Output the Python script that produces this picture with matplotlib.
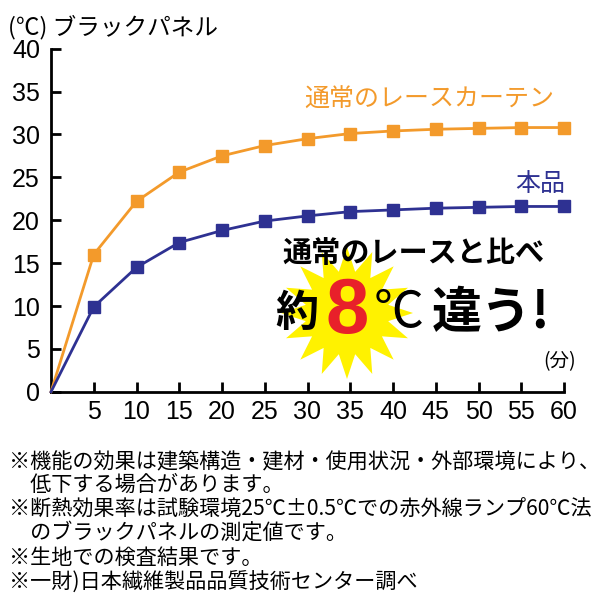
import numpy as np
import matplotlib
matplotlib.use('Agg')
import matplotlib.pyplot as plt
from matplotlib.patches import Polygon

plt.rcParams['font.family'] = ['Noto Sans CJK JP', 'DejaVu Sans']

# データ (分, ℃)
minutes = [0, 5, 10, 15, 20, 25, 30, 35, 40, 45, 50, 55, 60]
lace = [0, 16.0, 22.2, 25.6, 27.5, 28.7, 29.5, 30.1, 30.4, 30.6, 30.7, 30.8, 30.8]
product = [0, 9.9, 14.5, 17.4, 18.8, 19.9, 20.5, 21.0, 21.2, 21.4, 21.5, 21.6, 21.6]
xticks = list(range(5, 65, 5))
yticks = list(range(0, 45, 5))

orange = '#F39A2B'
navy = '#2E3192'

notes = [
    '※機能の効果は建築構造・建材・使用状況・外部環境により、',
    '　低下する場合があります。',
    '※断熱効果率は試験環境25℃±0.5℃での赤外線ランプ60℃法',
    '　のブラックパネルの測定値です。',
    '※生地での検査結果です。',
    '※一財)日本繊維製品品質技術センター調べ',
]

fig = plt.figure(figsize=(6, 6), dpi=100)
ax = fig.add_axes([0.085, 0.347, 0.855, 0.572])

# 原点にはマーカーなし
mk = list(range(1, len(minutes)))
ax.plot(minutes, lace, color=orange, lw=2, marker='s', ms=8.5, markevery=mk, clip_on=False, zorder=3)
ax.plot(minutes, product, color=navy, lw=2, marker='s', ms=8.5, markevery=mk, clip_on=False, zorder=3)

ax.set_xlim(0, 60)
ax.set_ylim(0, 40)
ax.set_xticks(xticks)
ax.set_yticks(yticks)
for s in ['top', 'right']:
    ax.spines[s].set_visible(False)
for s in ['left', 'bottom']:
    ax.spines[s].set_linewidth(2)
ax.tick_params(direction='in', length=7, width=2, labelsize=18, pad=6)
ax.tick_params(axis='y', pad=8)
for lab in ax.get_xticklabels() + ax.get_yticklabels():
    lab.set_family('Liberation Sans')

# series labels
fig.text(0.715, 0.833, '通常のレースカーテン', color=orange, fontsize=18, ha='center', va='center')
fig.text(0.900, 0.693, '本品', color=navy, fontsize=18, ha='center', va='center')
fig.text(0.013, 0.955, '(℃) ブラックパネル', fontsize=17, ha='left', va='center')
fig.text(0.932, 0.397, '(分)', fontsize=14, ha='center', va='center')

# starburst
n = 16
ang = np.linspace(0, 2 * np.pi, 2 * n, endpoint=False) + np.pi / 2
rad = np.where(np.arange(2 * n) % 2 == 0, 66, 42)
cx, cy = 347, 600 - 313
pts = np.column_stack([(cx + rad * np.cos(ang)) / 600, (cy + rad * np.sin(ang)) / 600])
fig.patches.append(Polygon(pts, closed=True, transform=fig.transFigure,
                           facecolor='#FFF200', edgecolor='none', zorder=1))

fig.text(0.69, 0.578, '通常のレースと比べ', fontsize=21, fontweight='bold', ha='center', va='center', zorder=5)
fig.text(0.495, 0.478, '約', fontsize=31, fontweight='bold', ha='center', va='center', zorder=5)
fig.text(0.579, 0.48, '8', fontsize=56, fontweight='bold', color='#E8202A',
         family='Liberation Sans', ha='center', va='center', zorder=5)
fig.text(0.665, 0.478, '℃', fontsize=36, ha='center', va='center', zorder=5)
fig.text(0.818, 0.478, '違う!', fontsize=36, fontweight='bold', ha='center', va='center', zorder=5)

# footnotes
ys = [462, 485, 510, 533, 558, 582]
for t, y in zip(notes, ys):
    fig.text(0.015, 1 - y / 600, t, fontsize=15.2, ha='left', va='center')

fig.savefig('out.png', dpi=100)
